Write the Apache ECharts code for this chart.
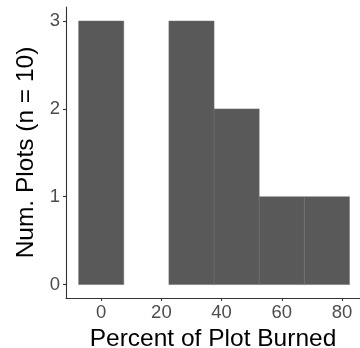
<!DOCTYPE html>
<html>
<head>
<meta charset="utf-8">
<script src="https://cdn.jsdelivr.net/npm/echarts@6/dist/echarts.min.js"></script>
<style>html,body{margin:0;padding:0;background:#fff}#c{width:360px;height:348px}</style>
</head>
<body>
<div id="c"></div>
<script>
const binStarts = [-7.5, 7.5, 22.5, 37.5, 52.5, 67.5];
const binEnds   = [7.5, 22.5, 37.5, 52.5, 67.5, 82.5];
const counts    = [3, 0, 3, 2, 1, 1];
const xTicks = [0, 20, 40, 60, 80];
const yTicks = [0, 1, 2, 3];
const xTitle = 'Percent of Plot Burned';
const yTitle = 'Num. Plots (n = 10)';

const font = '"Liberation Sans", Arial, Helvetica, sans-serif';
const data = binStarts.map((s, i) => [s, binEnds[i], counts[i]]);

const chart = echarts.init(document.getElementById('c'), null, {renderer: 'canvas'});
chart.setOption({
  animation: false,
  backgroundColor: '#ffffff',
  grid: {left: 66, right: 0, top: 7, bottom: 50, containLabel: false, outerBoundsMode: 'none'},
  xAxis: {
    type: 'value', min: -11.7, max: 86,
    name: xTitle, nameLocation: 'middle', nameGap: 24,
    nameTextStyle: {fontFamily: font, fontSize: 24.5, color: '#000'},
    splitLine: {show: false},
    axisLine: {show: true, onZero: false, lineStyle: {color: '#333', width: 1.1}},
    axisTick: {show: true, length: 3, customValues: xTicks, lineStyle: {color: '#333', width: 1.1}},
    axisLabel: {customValues: xTicks, margin: 5, fontFamily: font, fontSize: 18.5, color: '#4d4d4d'}
  },
  yAxis: {
    type: 'value', min: -0.153, max: 3.16,
    name: yTitle, nameLocation: 'middle', nameGap: 22, nameRotate: 90,
    nameTextStyle: {fontFamily: font, fontSize: 24.5, color: '#000'},
    splitLine: {show: false},
    axisLine: {show: true, onZero: false, lineStyle: {color: '#333', width: 1.1}},
    axisTick: {show: true, length: 3, customValues: yTicks, lineStyle: {color: '#333', width: 1.1}},
    axisLabel: {customValues: yTicks, margin: 6, fontFamily: font, fontSize: 18.5, color: '#4d4d4d'}
  },
  series: [{
    type: 'custom',
    data: data,
    encode: {x: [0, 1], y: 2},
    renderItem: function (params, api) {
      const h = api.value(2);
      if (!h) return null;
      const p0 = api.coord([api.value(0), 0]);
      const p1 = api.coord([api.value(1), h]);
      return {
        type: 'rect',
        shape: {x: p0[0], y: p1[1], width: p1[0] - p0[0], height: p0[1] - p1[1]},
        style: {fill: '#595959', stroke: '#6a6a6a', lineWidth: 0.5}
      };
    }
  }]
});
</script>
</body>
</html>
